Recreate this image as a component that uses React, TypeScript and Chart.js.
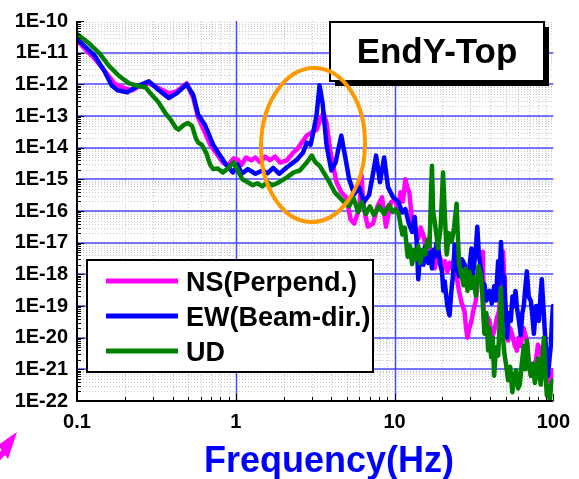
import React, { useEffect, useRef } from 'react';
import { Chart, registerables } from 'chart.js';

Chart.register(...registerables);

const FONT = '"Liberation Sans", Arial, Helvetica, sans-serif';

// ---- data -------------------------------------------------------------
const seriesNames = ['NS(Perpend.)', 'EW(Beam-dir.)', 'UD'];
const seriesColors = ['#ff00ff', '#0000ff', '#008000'];

const nsFreq = [0.1, 0.129, 0.149, 0.172, 0.199, 0.223, 0.246, 0.284, 0.328, 0.378, 0.424, 0.49, 0.54, 0.58, 0.62, 0.69, 0.75, 0.83, 0.89, 0.97, 1.03, 1.09, 1.16, 1.25, 1.33, 1.43, 1.53, 1.64, 1.77, 1.9, 2.1, 2.3, 2.43, 2.6, 2.8, 3.0, 3.23, 3.43, 3.57, 3.73, 3.95, 4.31, 4.62, 4.96, 5.3, 5.57, 5.98, 6.2, 6.34, 6.6, 6.8, 7.32, 7.8, 8.34, 8.83, 9.5,
  10.1, 10.5, 10.9, 11.3, 11.7, 12.1, 12.4, 12.9, 13.5, 14.1, 14.6, 15.1, 15.7, 16.3, 16.8, 17.2, 17.9, 18.6, 19.3, 20, 20.7, 21.5, 22.2, 23, 23.9, 24.7, 25.5, 26.5, 27.6, 28.2, 28.8, 29.6, 30.5, 31.5, 32.5, 33.5, 34.5, 36, 36.4, 36.8, 38, 39.6, 41, 42.4, 44, 45.5, 47, 48.3, 49, 49.6, 50.8, 51.9, 53.5, 55.2, 57, 59, 60.5, 62.3, 65, 68.1, 70, 72.2, 75, 77.6, 80, 83.4, 86.5, 89.7, 93, 96.5, 100];
const nsVal = [2.4e-11, 6.5e-12, 2.7e-12, 1.07e-12, 7.5e-13, 6.5e-13, 8.7e-13, 1.07e-12, 7.5e-13, 5.2e-13, 6.0e-13, 1.07e-12, 3.7e-13, 8.7e-14, 4.2e-14, 1.24e-14, 7.0e-15, 3.4e-15, 2.7e-15, 4.6e-15, 4.2e-15, 2.9e-15, 4.9e-15, 4.0e-15, 4.9e-15, 3.4e-15, 5.2e-15, 4.0e-15, 5.2e-15, 3.4e-15, 4.0e-15, 7.0e-15, 8.7e-15, 1.44e-14, 2.4e-14, 3.0e-14, 3.7e-14, 8.7e-14, 1.24e-13, 6.0e-14, 7.0e-15, 8.1e-16, 3.9e-16, 2.7e-16, 5.3e-17, 4.0e-17, 1.15e-16, 1.3e-15, 2.0e-16, 6.0e-17, 3.2e-17, 4.0e-17, 1.4e-16, 2.7e-16, 3.2e-17, 1.9e-16,
  2.3e-16, 1.0e-16, 3.9e-16, 2.0e-16, 1.0e-15, 5.0e-16, 3.9e-16, 4.6e-17, 2.5e-17, 1.33e-17, 3.0e-17, 1.9e-17, 8.0e-18, 1.33e-17, 6.0e-18, 3.6e-18, 1.54e-18, 4.0e-18, 3.6e-18, 1.5e-18, 2.6e-18, 1.2e-18, 2.3e-18, 1.5e-18, 3.6e-18, 8.0e-19, 2.9e-19, 1.2e-19, 6.9e-20, 2.0e-20, 1.0e-20, 2.0e-20, 3.4e-20, 8.0e-20, 1.44e-19, 6.0e-19, 1.5e-18, 5.2e-18, 1.0e-19, 2.1e-20, 5.0e-20, 3.4e-20, 1.0e-20, 1.6e-20, 4.0e-20, 6.9e-20, 6.0e-19, 5.2e-18, 8.0e-19, 1.44e-19, 2.0e-20, 8.1e-21, 2.0e-20, 1.2e-20, 6.0e-21, 3.9e-21, 1.0e-20, 5.5e-21, 2.0e-20, 8.1e-21, 2.0e-21, 6.3e-22, 1.5e-21, 1.8e-21, 6.0e-21, 3.9e-21, 1.0e-21, 4.5e-22, 8.0e-22, 3.3e-22, 9.3e-22];

const ewFreq = [0.1, 0.129, 0.149, 0.165, 0.18, 0.207, 0.239, 0.284, 0.328, 0.378, 0.424, 0.49, 0.54, 0.58, 0.64, 0.72, 0.79, 0.87, 0.96, 1.03, 1.09, 1.19, 1.33, 1.47, 1.58, 1.72, 1.88, 2.1, 2.43, 2.65, 2.8, 2.96, 3.1, 3.23, 3.37, 3.52, 3.73, 4.0, 4.25, 4.62, 4.9, 5.18, 5.57, 5.98, 6.4, 6.91, 7.32, 7.65, 8.1, 8.6, 9.1, 9.76,
  10.6, 11.2, 11.7, 12.3, 12.9, 13.4, 13.8, 14.1, 14.5, 14.8, 15.2, 15.6, 16.0, 16.3, 16.8, 17.2, 17.6, 17.9, 18.4, 18.8, 19.4, 19.9, 20.3, 20.7, 21.5, 22.2, 22.8, 23.4, 23.9, 24.5, 25.5, 26.5, 27.6, 28.4, 29.2, 30, 30.5, 31.2, 31.8, 32.5, 33.2, 34, 35.2, 36, 36.8, 38, 39.6, 41, 42.4, 43.5, 44.9, 45.8, 46.8, 47.8, 48.9, 50, 51.1, 52.5, 54, 55.3, 56.5, 57.8, 59, 60.5, 62.3, 63.8, 65.2, 66.7, 68.1, 70, 72.2, 73.8, 75.4, 78, 81, 83, 84.6, 86.5, 88.4, 90.5, 92.5, 94.5, 96.5, 98, 99.5];
const ewVal = [2.7e-11, 8.1e-12, 2.6e-12, 9.3e-13, 6.5e-13, 5.6e-13, 8.7e-13, 1.24e-12, 6.5e-13, 3.7e-13, 5.2e-13, 1.0e-12, 4.6e-13, 1.1e-13, 5.2e-14, 1.24e-14, 6.0e-15, 2.9e-15, 1.65e-15, 2.9e-15, 1.5e-15, 2.1e-15, 1.5e-15, 1.9e-15, 1.55e-15, 2.3e-15, 1.5e-15, 2.4e-15, 4.2e-15, 6.9e-15, 1.44e-14, 1.24e-14, 3.7e-14, 1.1e-13, 9.3e-13, 2.6e-13, 1.2e-14, 1.9e-15, 3.4e-15, 2.4e-14, 4.9e-15, 1.0e-15, 3.4e-16, 5.6e-16, 1.9e-16, 3.2e-16, 1.5e-15, 5.6e-15, 8.1e-16, 4.9e-15, 5.6e-16, 2.8e-16,
  1.9e-16, 9.0e-17, 1.15e-16, 4.0e-17, 2.2e-17, 6.5e-17, 1.0e-17, 7.0e-19, 4.0e-18, 5.2e-18, 2.0e-18, 7.5e-18, 3.0e-18, 2.3e-18, 5.0e-18, 1.54e-18, 6.0e-18, 3.6e-18, 1.0e-17, 7.5e-18, 2.0e-18, 1.24e-18, 3.0e-19, 6.0e-19, 1.0e-19, 5.0e-20, 3.0e-19, 1.0e-18, 8.7e-18, 2.0e-18, 8.7e-19, 3.0e-18, 2.1e-18, 5.0e-19, 8.7e-19, 3.0e-18, 6.5e-18, 1.0e-18, 2.3e-18, 6.0e-18, 3.2e-17, 4.0e-18, 1.24e-18, 3.0e-19, 4.9e-19, 1.5e-19, 3.0e-19, 1.2e-19, 4.2e-19, 1.5e-19, 2.6e-18, 5.0e-19, 1.05e-17, 1.0e-18, 8.7e-19, 1.0e-19, 1.0e-20, 6.0e-20, 3.4e-20, 2.0e-19, 1.0e-19, 3.0e-19, 8.7e-20, 4.0e-20, 1.2e-20, 6.0e-20, 1.0e-19, 4.0e-19, 1.24e-18, 2.0e-19, 1.44e-19, 5.0e-20, 1.33e-20, 1.0e-19, 3.4e-20, 2.0e-19, 7.0e-19, 1.0e-19, 1.6e-20, 3.0e-21, 6.3e-22, 2.0e-21, 5.7e-21, 3.0e-20, 1.0e-19];

const udFreq = [0.1, 0.12, 0.139, 0.16, 0.185, 0.213, 0.246, 0.27, 0.29, 0.328, 0.36, 0.39, 0.42, 0.436, 0.47, 0.5, 0.53, 0.56, 0.58, 0.61, 0.65, 0.69, 0.72, 0.77, 0.83, 0.89, 0.97, 1.03, 1.1, 1.19, 1.28, 1.37, 1.47, 1.58, 1.7, 1.82, 1.96, 2.1, 2.32, 2.53, 2.8, 3.01, 3.18, 3.37, 3.65, 3.89, 4.2, 4.5, 4.82, 5.18, 5.49, 5.9, 6.2, 6.6, 7.0, 7.4, 8.0, 8.6, 9.2, 9.76,
  10.1, 10.6, 11.2, 11.6, 12.1, 12.5, 12.9, 13.3, 13.7, 14.1, 14.5, 15, 15.6, 16.1, 16.6, 17.2, 17.5, 17.9, 18.3, 18.8, 19.5, 20.2, 20.7, 21.3, 22, 22.9, 23.7, 24.6, 25, 25.5, 26.3, 27.2, 28, 28.8, 29.6, 30.5, 31.5, 32.5, 33.8, 35.2, 36, 36.8, 37.8, 38.9, 39.7, 40.6, 41.5, 42.4, 43.6, 44.9, 45.8, 46.8, 47.8, 48.9, 50.3, 51.9, 53.5, 55.2, 56.7, 58.2, 60, 61.5, 63.3, 65.2, 66.6, 68.1, 70, 72.2, 74.3, 76.5, 78, 80, 81.8, 83.4, 85.2, 87.1, 89, 91, 93, 95, 97, 99];
const udVal = [3.9e-11, 1.9e-11, 9.3e-12, 3.7e-12, 1.8e-12, 1.07e-12, 8.7e-13, 8.1e-13, 5.2e-13, 2.6e-13, 1.24e-13, 7.5e-14, 4.2e-14, 3.7e-14, 5.2e-14, 6.0e-14, 4.9e-14, 2.0e-14, 1.44e-14, 1.24e-14, 7.0e-15, 2.9e-15, 2.1e-15, 2.2e-15, 1.65e-15, 2.2e-15, 3.4e-15, 1.9e-15, 1.0e-15, 8.1e-16, 6.5e-16, 7.5e-16, 6.0e-16, 8.1e-16, 6.5e-16, 7.5e-16, 9.3e-16, 1.15e-15, 1.65e-15, 1.9e-15, 3.4e-15, 5.6e-15, 3.4e-15, 2.7e-15, 1.4e-15, 8.1e-16, 3.9e-16, 2.7e-16, 1.9e-16, 1.4e-16, 2.7e-16, 9.3e-17, 1.9e-16, 8.1e-17, 1.4e-16, 7.5e-17, 1.4e-16, 8.1e-17, 1.54e-16, 9.3e-17,
  1.15e-16, 8.1e-17, 1.8e-17, 3.0e-17, 3.6e-18, 8.0e-18, 2.1e-18, 6.0e-18, 3.0e-18, 8.0e-18, 2.3e-18, 6.0e-18, 4.2e-18, 1.2e-17, 7.5e-18, 2.7e-15, 1.0e-16, 4.6e-17, 2.0e-17, 6.5e-18, 3.0e-17, 1.65e-15, 1.0e-16, 4.2e-18, 2.0e-17, 1.07e-17, 3.0e-17, 1.7e-16, 2.0e-17, 2.1e-18, 1.0e-18, 4.5e-19, 1.5e-18, 3.0e-19, 1.2e-18, 3.7e-19, 8.0e-19, 2.1e-19, 1.8e-18, 8.7e-19, 1.0e-19, 1.33e-20, 6.0e-20, 3.9e-21, 2.0e-20, 2.4e-21, 1.0e-20, 6.3e-22, 5.0e-21, 2.7e-21, 2.0e-20, 3.7e-19, 2.0e-20, 3.9e-21, 1.5e-21, 4.5e-22, 1.2e-21, 1.9e-22, 6.0e-22, 9.3e-22, 2.5e-22, 3.3e-22, 1.5e-21, 5.6e-21, 1.0e-21, 8.1e-21, 1.5e-21, 6.3e-22, 1.5e-21, 3.7e-22, 8.0e-22, 2.2e-21, 6.0e-22, 3.3e-22, 1.5e-21, 1.0e-20, 1.0e-21, 1.5e-22, 3.0e-22, 1.0e-22, 3.0e-22, 4.5e-22];

const xTickValues = [0.1, 1, 10, 100];
const xTickLabels = ['0.1', '1', '10', '100'];
const yTickValues = [1e-10, 1e-11, 1e-12, 1e-13, 1e-14, 1e-15, 1e-16, 1e-17, 1e-18, 1e-19, 1e-20, 1e-21, 1e-22];
const yTickLabels = ['1E-10', '1E-11', '1E-12', '1E-13', '1E-14', '1E-15', '1E-16', '1E-17', '1E-18', '1E-19', '1E-20', '1E-21', '1E-22'];

const chartTitle = 'EndY-Top';
const xAxisTitle = 'Frequency(Hz)';

// ---- helpers ------------------------------------------------------------
const sameLog = (a: number, b: number) => Math.abs(Math.log10(a) - Math.log10(b)) < 1e-6;
const labelFor = (v: number, vals: number[], labels: string[]) => {
  const i = vals.findIndex((t) => sameLog(t, v));
  return i >= 0 ? labels[i] : '';
};
const zip = (f: number[], v: number[]) => f.map((x, i) => ({ x, y: v[i] }));

// grid values: 1..9 in every decade of an axis range
const decadeSteps = (minExp: number, maxExp: number) => {
  const out: { v: number; major: boolean }[] = [];
  for (let e = minExp; e < maxExp; e++) {
    for (let k = 1; k <= 9; k++) out.push({ v: k * Math.pow(10, e), major: k === 1 });
  }
  out.push({ v: Math.pow(10, maxExp), major: true });
  return out;
};

const decoPlugin = {
  id: 'deco',
  beforeDatasetsDraw(chart: any) {
    const { ctx, chartArea: a } = chart;
    const xs = chart.scales.x;
    const ys = chart.scales.y;
    ctx.save();
    // minor dotted grid
    ctx.lineWidth = 1;
    ctx.strokeStyle = '#c8c8c8';
    ctx.setLineDash([1, 2]);
    ctx.beginPath();
    decadeSteps(-1, 2).forEach(({ v, major }) => {
      if (major) return;
      const p = Math.round(xs.getPixelForValue(v)) + 0.5;
      ctx.moveTo(p, a.top);
      ctx.lineTo(p, a.bottom);
    });
    decadeSteps(-22, -10).forEach(({ v, major }) => {
      if (major) return;
      const p = Math.round(ys.getPixelForValue(v)) + 0.5;
      ctx.moveTo(a.left, p);
      ctx.lineTo(a.right, p);
    });
    ctx.stroke();
    // major blue grid
    ctx.setLineDash([]);
    ctx.strokeStyle = '#4848ff';
    ctx.lineWidth = 1.5;
    ctx.beginPath();
    [1, 10].forEach((v) => {
      const p = Math.round(xs.getPixelForValue(v)) + 0.5;
      ctx.moveTo(p, a.top);
      ctx.lineTo(p, a.bottom);
    });
    yTickValues.forEach((v) => {
      if (sameLog(v, 1e-10) || sameLog(v, 1e-22)) return;
      const p = Math.round(ys.getPixelForValue(v));
      ctx.moveTo(a.left, p);
      ctx.lineTo(a.right, p);
    });
    ctx.stroke();
    ctx.restore();
  },
  afterDatasetsDraw(chart: any) {
    const { ctx, chartArea: a } = chart;
    const xs = chart.scales.x;
    const ys = chart.scales.y;
    ctx.save();
    ctx.setLineDash([]);
    // axes
    ctx.strokeStyle = '#000';
    ctx.lineWidth = 2;
    ctx.beginPath();
    ctx.moveTo(a.left, a.top);
    ctx.lineTo(a.left, a.bottom);
    ctx.lineTo(a.right, a.bottom);
    ctx.stroke();
    // inward tick marks
    ctx.lineWidth = 1;
    ctx.beginPath();
    decadeSteps(-22, -10).forEach(({ v, major }) => {
      const p = Math.round(ys.getPixelForValue(v)) + 0.5;
      ctx.moveTo(a.left, p);
      ctx.lineTo(a.left + (major ? 7 : 4), p);
    });
    decadeSteps(-1, 2).forEach(({ v, major }) => {
      const p = Math.round(xs.getPixelForValue(v)) + 0.5;
      ctx.moveTo(p, a.bottom);
      ctx.lineTo(p, a.bottom - (major ? 7 : 4));
    });
    ctx.stroke();

    // legend box
    const lx = 87, ly = 260, lw = 286, lh = 112;
    ctx.fillStyle = '#fff';
    ctx.fillRect(lx, ly, lw, lh);
    ctx.strokeStyle = '#000';
    ctx.lineWidth = 2;
    ctx.strokeRect(lx, ly, lw, lh);
    ctx.font = `bold 27px ${FONT}`;
    ctx.textAlign = 'left';
    ctx.textBaseline = 'alphabetic';
    seriesNames.forEach((name, i) => {
      const yy = 281 + i * 35;
      ctx.strokeStyle = seriesColors[i];
      ctx.lineWidth = 5;
      ctx.beginPath();
      ctx.moveTo(106, yy);
      ctx.lineTo(178, yy);
      ctx.stroke();
      ctx.fillStyle = '#000';
      ctx.fillText(name, 186, yy + 10);
    });

    // title box with shadow
    ctx.fillStyle = '#000';
    ctx.fillRect(335, 27, 214, 59);
    ctx.fillStyle = '#fff';
    ctx.fillRect(330, 22, 214, 59);
    ctx.strokeStyle = '#000';
    ctx.lineWidth = 2;
    ctx.strokeRect(330, 22, 214, 59);
    ctx.fillStyle = '#000';
    ctx.font = `bold 35px ${FONT}`;
    ctx.textAlign = 'center';
    ctx.fillText(chartTitle, 437, 63);

    // orange ellipse highlight
    ctx.strokeStyle = '#ff9900';
    ctx.lineWidth = 4;
    ctx.beginPath();
    ctx.ellipse(313, 145, 52, 77, 0.03, 0, Math.PI * 2);
    ctx.stroke();

    // magenta arrow (partially outside)
    ctx.fillStyle = '#ff00ff';
    ctx.beginPath();
    ctx.moveTo(17, 432);
    ctx.lineTo(-2, 445);
    ctx.lineTo(8, 459);
    ctx.closePath();
    ctx.fill();
    ctx.strokeStyle = '#ff00ff';
    ctx.lineWidth = 6;
    ctx.beginPath();
    ctx.moveTo(5, 451);
    ctx.lineTo(-20, 476);
    ctx.stroke();

    // x axis title
    ctx.fillStyle = '#0000ff';
    ctx.font = `bold 36px ${FONT}`;
    ctx.textAlign = 'center';
    ctx.fillText(xAxisTitle, 329, 472);
    ctx.restore();
  },
};

export default function App() {
  const ref = useRef<HTMLCanvasElement>(null);
  useEffect(() => {
    const series = [zip(nsFreq, nsVal), zip(ewFreq, ewVal), zip(udFreq, udVal)];
    const chart = new Chart(ref.current as HTMLCanvasElement, {
      type: 'line',
      data: {
        datasets: series.map((d, i) => ({
          label: seriesNames[i],
          data: d,
          borderColor: seriesColors[i],
          backgroundColor: seriesColors[i],
          borderWidth: 4.5,
          pointRadius: 0,
          tension: 0,
          fill: false,
          borderJoinStyle: 'round' as const,
          borderCapStyle: 'round' as const,
          order: 3 - i,
        })),
      },
      options: {
        responsive: false,
        animation: false,
        devicePixelRatio: 1,
        layout: { padding: { top: 17, right: 19, left: 0, bottom: 0 } },
        plugins: { legend: { display: false }, tooltip: { enabled: false }, title: { display: false } },
        scales: {
          x: {
            type: 'logarithmic',
            min: 0.1,
            max: 100,
            grid: { display: false, drawTicks: false },
            border: { display: false },
            afterBuildTicks: (s: any) => {
              s.ticks = xTickValues.map((v) => ({ value: v }));
            },
            afterFit: (s: any) => {
              s.height = 78;
            },
            ticks: {
              autoSkip: false,
              maxRotation: 0,
              minRotation: 0,
              padding: 9,
              color: '#000',
              font: { family: FONT, size: 20, weight: 'bold' },
              callback: (v: any) => labelFor(Number(v), xTickValues, xTickLabels),
            },
          },
          y: {
            type: 'logarithmic',
            min: 1e-22,
            max: 1e-10,
            grid: { display: false, drawTicks: false },
            border: { display: false },
            afterBuildTicks: (s: any) => {
              s.ticks = yTickValues.map((v) => ({ value: v }));
            },
            afterFit: (s: any) => {
              s.width = 77;
            },
            ticks: {
              autoSkip: false,
              padding: 9,
              color: '#000',
              font: { family: FONT, size: 20, weight: 'bold' },
              callback: (v: any) => labelFor(Number(v), yTickValues, yTickLabels),
            },
          },
        },
      } as any,
      plugins: [decoPlugin],
    });
    return () => chart.destroy();
  }, []);
  return (
    <div style={{ position: 'fixed', left: 0, top: 0, width: 579, height: 479, background: '#fff' }}>
      <canvas ref={ref} width={579} height={479} style={{ display: 'block' }} />
    </div>
  );
}
